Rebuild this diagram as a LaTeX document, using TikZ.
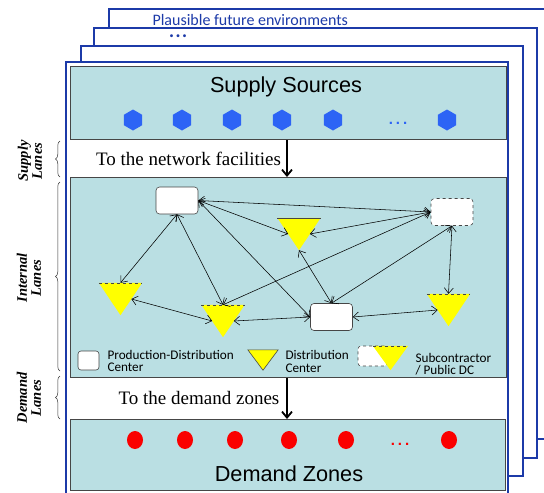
\documentclass[tikz,border=0pt]{standalone}
\usepackage{fontspec}
\setmainfont{Liberation Serif}
\setsansfont{Liberation Sans}
\newfontfamily\calibfont{Carlito}
\usetikzlibrary{arrows.meta,shapes.geometric,decorations.pathreplacing,calc}
\definecolor{laneteal}{RGB}{186,223,227}
\definecolor{frameblue}{RGB}{28,58,168}
\definecolor{hexblue}{RGB}{45,100,245}
\definecolor{boxgray}{RGB}{70,70,70}
\definecolor{dcyellow}{RGB}{255,255,0}
\definecolor{dotred}{RGB}{250,0,0}
\begin{document}
\begin{tikzpicture}[x=1pt,y=-1pt,
  frame/.style={draw=frameblue,line width=1.4pt,fill=white},
  lanebox/.style={draw=boxgray,line width=1pt,fill=laneteal,inner sep=0,anchor=north west},
  pdcbox/.style={draw=boxgray,fill=white,rounded corners=3.5pt,minimum width=42pt,minimum height=27pt,inner sep=0,line width=0.6pt},
  subbox/.style={pdcbox,dashed},
  tribox/.style={inner sep=0,minimum width=43pt,minimum height=32pt},
  hexdot/.style={regular polygon,regular polygon sides=6,shape border rotate=90,fill=hexblue,minimum size=21pt,inner sep=0},
  reddot/.style={ellipse,fill=dotred,minimum width=16pt,minimum height=18pt,inner sep=0},
  link/.style={{Straight Barb[length=5.5pt,width=9pt]}-{Straight Barb[length=5.5pt,width=9pt]},line width=0.55pt},
  bigarrow/.style={-{Straight Barb[length=6pt,width=10pt]},line width=1.8pt},
  sidelabel/.style={rotate=90,align=center,font=\bfseries\itshape\fontsize{14.5}{14}\selectfont},
  sidebrace/.style={decorate,decoration={brace,amplitude=4.5pt},line width=0.5pt,draw=black!80},
  legtext/.style={anchor=west,align=left,font=\calibfont\fontsize{13.2}{12.6}\selectfont},
  dotsfont/.style={font=\sffamily\bfseries\fontsize{15}{15}\selectfont,anchor=base},
  ]
\useasboundingbox (0,0) rectangle (544,493);
\clip (0,0) rectangle (544,493);

% stacked environment frames
\draw[frame] (109,9) rectangle (570,439);
\draw[frame] (94,28) rectangle (537,458);
\draw[frame] (81,46) rectangle (523,476);
\draw[frame] (66,62) rectangle (508,520);
\node[anchor=base west,text=frameblue,font=\calibfont\fontsize{16}{19}\selectfont] (plaus) at (149,25) {Plausible future environments};
\node[anchor=base,text=frameblue,font=\sffamily\bfseries\fontsize{10}{10}\selectfont] (edots) at (178,39.5) {•\hspace{3pt}•\hspace{3pt}•};

% lane boxes
\node[lanebox,minimum width=436pt,minimum height=73pt] (supply) at (70,66) {};
\node[lanebox,minimum width=436pt,minimum height=200pt] (internal) at (70,177) {};
\node[lanebox,minimum width=435pt,minimum height=71pt] (demand) at (70,419) {};

\node[anchor=base,font=\sffamily\fontsize{21.7}{26}\selectfont] (supt) at (286,92) {Supply Sources};
\node[anchor=base,font=\sffamily\fontsize{21.7}{26}\selectfont] (demt) at (289,481) {Demand Zones};

% supply points
\foreach \x [count=\i] in {133,182,232,282,333,447}
  \node[hexdot] (h\i) at (\x,120) {};
\node[dotsfont,text=hexblue] (hdots) at (398,124) {.\hspace{3pt}.\hspace{3pt}.};

% demand points
\foreach \x [count=\i] in {135,185,235,289,346,449}
  \node[reddot] (d\i) at (\x,440) {};
\node[dotsfont,text=dotred] (ddots) at (400,445) {.\hspace{3pt}.\hspace{3pt}.};

% lane arrows and labels
\coordinate (ax) at (287,0);
\draw[bigarrow] (supply.south -| ax) -- (internal.north -| ax);
\draw[bigarrow] (internal.south -| ax) -- (demand.north -| ax);
\node[anchor=base,font=\fontsize{19}{22}\selectfont] (tonet) at (188.5,165) {To the network facilities};
\node[anchor=base,font=\fontsize{19}{22}\selectfont] (todem) at (199,404.5) {To the demand zones};

% side labels
\node[sidelabel] (lsup) at (30,161) {Supply\\Lanes};
\node[sidelabel] (lint) at (29,278) {Internal\\Lanes};
\node[sidelabel] (ldem) at (29,398) {Demand\\Lanes};
\coordinate (bs1) at (60,177); \coordinate (bs2) at (60,141);
\coordinate (bi1) at (60,371); \coordinate (bi2) at (60,182);
\coordinate (bd1) at (60,419); \coordinate (bd2) at (60,376);
\draw[sidebrace] (bs1) -- (bs2);
\draw[sidebrace] (bi1) -- (bi2);
\draw[sidebrace] (bd1) -- (bd2);

% facilities
\node[pdcbox] (p1) at (177,200.5) {};
\node[pdcbox] (p2) at (331.5,317) {};
\node[subbox] (sb) at (452,212) {};
\node[tribox] (tT) at (299,234) {};
\node[tribox] (tL) at (120.5,299) {};
\node[tribox] (tM) at (223,321) {};
\node[tribox] (tR) at (448.5,310) {};
\fill[dcyellow] (tT.north west) -- (tT.north east) -- (tT.south) -- cycle;
\draw[boxgray,line width=0.6pt] (tT.north west) -- (tT.north east);
\foreach \t in {tL,tM,tR}{
  \fill[dcyellow] (\t.north west) -- (\t.north east) -- (\t.south) -- cycle;
  \draw[boxgray,dashed,line width=0.6pt] (\t.north west) -- (\t.north east);
}

% side midpoints of the triangles
\coordinate (tTl) at ($(tT.north west)!0.5!(tT.south)$);
\coordinate (tTr) at ($(tT.north east)!0.5!(tT.south)$);
\coordinate (tLr) at ($(tL.north east)!0.5!(tL.south)$);
\coordinate (tMl) at ($(tM.north west)!0.5!(tM.south)$);
\coordinate (tMr) at ($(tM.north east)!0.5!(tM.south)$);
\coordinate (tRl) at ($(tR.north west)!0.5!(tR.south)$);

% internal lanes
\draw[link] (p1.south) -- (tL.north);
\draw[link] (p1.south) -- (tM.north);
\draw[link] (p1.east) -- (tTl);
\draw[link] (p1.east) -- (sb.west);
\draw[link] (p1.east) -- (p2.west);
\draw[link] (tTr) -- (sb.west);
\draw[link] (tM.north) -- (sb.west);
\draw[link] (p2.north) -- (sb.south);
\draw[link] (tT.south) -- (p2.north);
\draw[link] (sb.south) -- (tR.north);
\draw[link] (p2.east) -- (tRl);
\draw[link] (tMr) -- (p2.west);
\draw[link] (tLr) -- (tMl);

% legend
\node[pdcbox,minimum width=21pt,minimum height=19pt,rounded corners=3pt] (lg1) at (88.5,360.5) {};
\node[legtext] (lg1t) at (104,361) {Production-Distribution\\Center};
\node[inner sep=0,minimum width=30pt,minimum height=20pt] (lg2) at (263,360) {};
\filldraw[fill=dcyellow,draw=boxgray,line width=0.6pt] (lg2.north west) -- (lg2.north east) -- (lg2.south) -- cycle;
\node[legtext] (lg2t) at (282,361.5) {Distribution\\Center};
\node[subbox,minimum width=29pt,minimum height=20pt,rounded corners=3pt] (lg3) at (372.5,356) {};
\node[inner sep=0,minimum width=35pt,minimum height=24pt] (lg4) at (390.5,358) {};
\fill[dcyellow] (lg4.north west) -- (lg4.north east) -- (lg4.south) -- cycle;
\draw[boxgray,dashed,line width=0.6pt] (lg4.north west) -- (lg4.north east);
\node[legtext] (lg4t) at (412,364) {Subcontractor\\/ Public DC};
\end{tikzpicture}
\end{document}
